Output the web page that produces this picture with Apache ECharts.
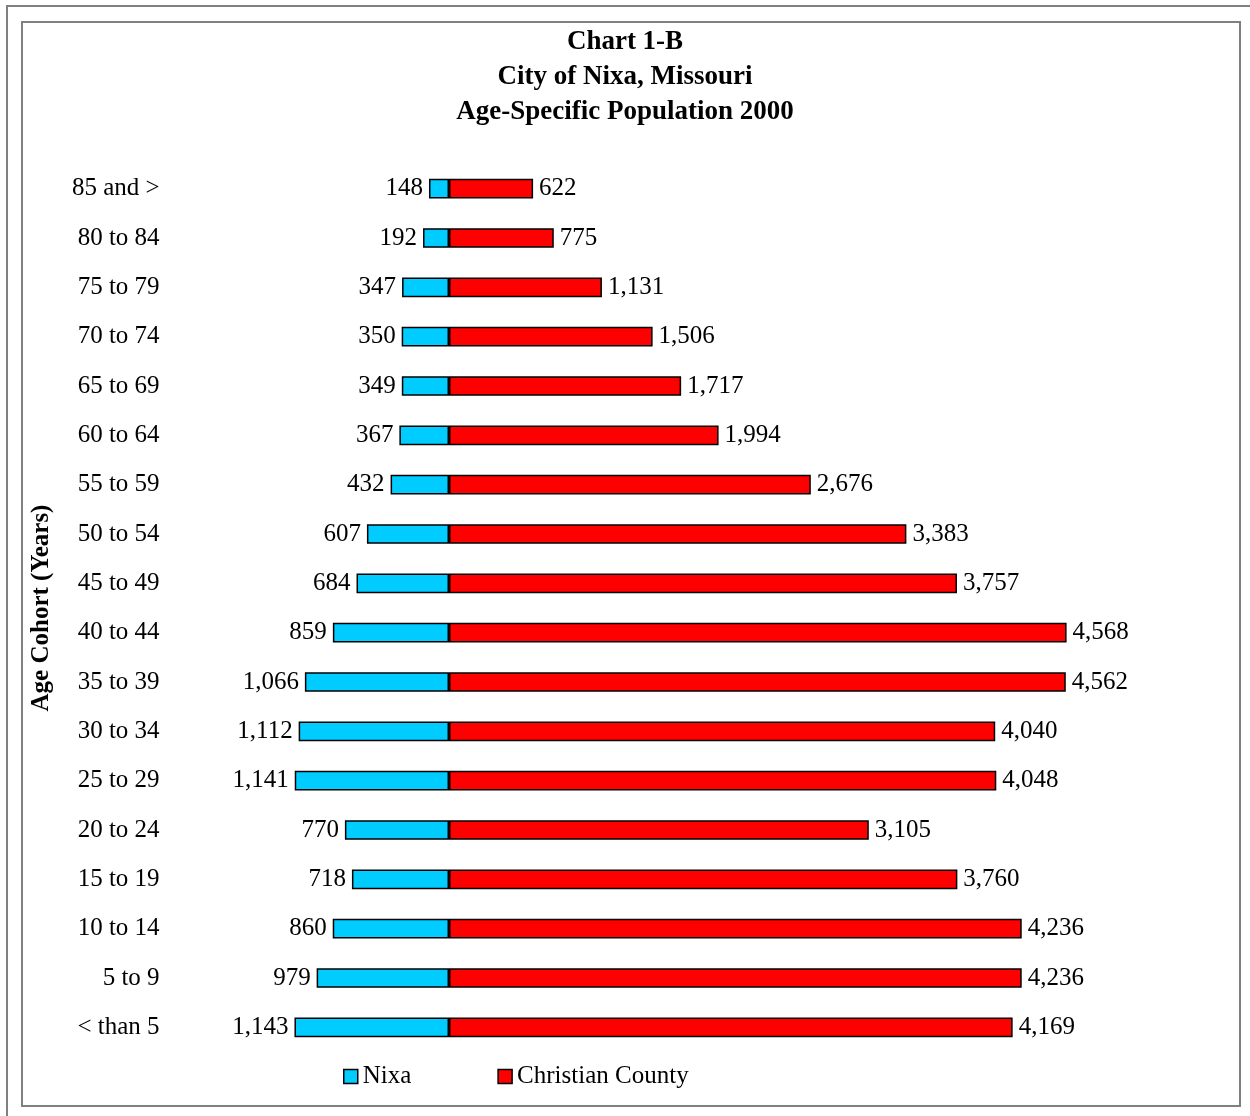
<!DOCTYPE html>
<html>
<head>
<meta charset="utf-8">
<script src="https://cdn.jsdelivr.net/npm/echarts@6/dist/echarts.min.js"></script>
<style>
  html, body { margin: 0; padding: 0; background: #fff; }
  #chart { width: 1250px; height: 1116px; }
</style>
</head>
<body>
<div id="chart"></div>
<script>
// age cohorts, bottom to top
var cohorts = ['< than 5', '5 to 9', '10 to 14', '15 to 19', '20 to 24', '25 to 29',
    '30 to 34', '35 to 39', '40 to 44', '45 to 49', '50 to 54', '55 to 59',
    '60 to 64', '65 to 69', '70 to 74', '75 to 79', '80 to 84', '85 and >'];
var nixa = [1143, 979, 860, 718, 770, 1141, 1112, 1066, 859, 684, 607, 432,
    367, 349, 350, 347, 192, 148];
var christian = [4169, 4236, 4236, 3760, 3105, 4048, 4040, 4562, 4568, 3757, 3383, 2676,
    1994, 1717, 1506, 1131, 775, 622];

var serif = '"Liberation Serif", "Times New Roman", serif';

function fmt(v) {
    return Math.abs(v).toLocaleString('en-US');
}

var chart = echarts.init(document.getElementById('chart'));
var option = {
    backgroundColor: '#fff',
    animation: false,
    title: {
        text: 'Chart 1-B\nCity of Nixa, Missouri\nAge-Specific Population 2000',
        left: 'center',
        top: 20,
        textStyle: {
            fontFamily: serif,
            fontWeight: 'bold',
            fontSize: 27,
            lineHeight: 35,
            color: '#000'
        }
    },
    legend: {
        bottom: 22,
        left: 338,
        itemWidth: 14,
        itemHeight: 14,
        itemGap: 86,
        icon: 'rect',
        itemStyle: { borderColor: '#000', borderWidth: 1.5 },
        textStyle: { fontFamily: serif, fontSize: 25, color: '#000' },
        data: ['Nixa', 'Christian County']
    },
    graphic: [
        {
            type: 'polyline',
            shape: { points: [[7, 1116], [7, 6], [1250, 6]] },
            style: { stroke: '#808080', lineWidth: 2, fill: null }
        },
        {
            type: 'rect',
            shape: { x: 22, y: 22, width: 1218, height: 1084 },
            style: { stroke: '#808080', lineWidth: 2, fill: null }
        }
    ],
    grid: {
        left: 178.6,
        right: 125,
        top: 164,
        bottom: 64
    },
    xAxis: {
        type: 'value',
        min: -2000,
        max: 5000,
        show: false
    },
    yAxis: {
        type: 'category',
        data: cohorts,
        name: 'Age Cohort (Years)',
        nameLocation: 'middle',
        nameGap: 125,
        nameTextStyle: {
            fontFamily: serif,
            fontWeight: 'bold',
            fontSize: 25,
            color: '#000'
        },
        axisLine: { show: false },
        axisTick: { show: false },
        axisLabel: {
            margin: 19,
            fontFamily: serif,
            fontSize: 25,
            color: '#000'
        }
    },
    series: [
        {
            name: 'Nixa',
            type: 'bar',
            stack: 'pop',
            barWidth: '40%',
            data: nixa.map(function (v) { return -v; }),
            itemStyle: { color: '#00CCFF', borderColor: '#000', borderWidth: 1.5 },
            label: {
                show: true,
                position: 'left',
                distance: 6,
                fontFamily: serif,
                fontSize: 25,
                color: '#000',
                formatter: function (p) { return fmt(p.value); }
            }
        },
        {
            name: 'Christian County',
            type: 'bar',
            stack: 'pop',
            barWidth: '40%',
            data: christian,
            itemStyle: { color: '#FF0000', borderColor: '#000', borderWidth: 1.5 },
            label: {
                show: true,
                position: 'right',
                distance: 6,
                fontFamily: serif,
                fontSize: 25,
                color: '#000',
                formatter: function (p) { return fmt(p.value); }
            }
        }
    ]
};
chart.setOption(option);
</script>
</body>
</html>
